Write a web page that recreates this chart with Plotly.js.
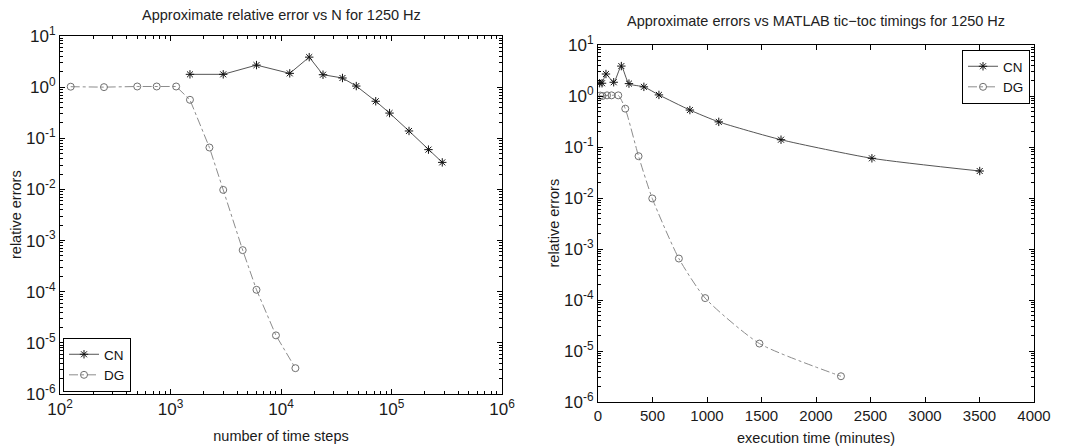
<!DOCTYPE html>
<html>
<head>
<meta charset="utf-8">
<script src="https://cdn.plot.ly/plotly-3.0.1.min.js"></script>
<style>html,body{margin:0;padding:0;background:#fff;}#chart{width:1072px;height:446px;}</style>
</head>
<body>
<div id="chart"></div>
<script>
// ---- data ----
const seriesNames = ["CN", "DG"];
// CN (Crank–Nicolson)
const stepsCN = [1500, 3000, 6000, 12000, 18000, 24000, 36000, 48000, 72000, 96000, 144000, 216000, 288000];
const errCN   = [1.78, 1.78, 2.7, 1.86, 3.86, 1.75, 1.51, 1.05, 0.53, 0.311, 0.139, 0.060, 0.0338];
const timeCN  = [15, 37, 73, 144, 214, 284, 421, 559, 843, 1108, 1679, 2513, 3502];
// DG
const stepsDG = [125, 250, 500, 750, 1125, 1500, 2250, 3000, 4500, 6000, 9000, 13500];
const errDG   = [1.02, 1.0, 1.03, 1.03, 1.03, 0.565, 0.066, 0.0098, 6.5e-4, 1.09e-4, 1.4e-5, 3.2e-6];
const timeDG  = [21, 41, 83, 124, 186, 250, 372, 498, 742, 983, 1481, 2229];

const titleLeft = "Approximate relative error vs N for 1250 Hz";
const titleRight = "Approximate errors vs MATLAB tic\u2212toc timings for 1250 Hz";
const xTitleLeft = "number of time steps";
const xTitleRight = "execution time (minutes)";
const yTitle = "relative errors";

const yExp = [1, 0, -1, -2, -3, -4, -5, -6];
const xExpLeft = [2, 3, 4, 5, 6];
const xTicksRight = [0, 500, 1000, 1500, 2000, 2500, 3000, 3500, 4000];

// ---- helpers ----
function powLabel(e){ return "10<sup>" + e + "</sup>"; }
function minorVals(lo, hi){ const v=[]; for(let e=lo;e<hi;e++){ for(let m=2;m<=9;m++) v.push(m*Math.pow(10,e)); } return v; }

const W = 1072, H = 446;
const L = {l:60, r:502, t:36, b:394};
const R = {l:598, r:1034, t:45, b:402};

const FAM = "Liberation Sans, Arial, Helvetica, sans-serif";
const TXT = "#1a1a1a";

const cnLine = {color:"#555555", width:1};
const cnMarker = {symbol:"asterisk-open", size:7, color:"#111", line:{color:"#111", width:1}};
const dgLine = {color:"#8c8c8c", width:1, dash:"dashdot"};
const dgMarker = {symbol:"circle-open", size:7, color:"#707070", line:{color:"#707070", width:1}};

const traces = [
  {x:stepsCN, y:errCN, name:seriesNames[0], mode:"lines+markers", line:cnLine, marker:cnMarker, xaxis:"x", yaxis:"y", legend:"legend"},
  {x:stepsDG, y:errDG, name:seriesNames[1], mode:"lines+markers", line:dgLine, marker:dgMarker, xaxis:"x", yaxis:"y", legend:"legend"},
  {x:timeCN, y:errCN, name:seriesNames[0], mode:"lines+markers", line:{...cnLine, shape:"spline", smoothing:0.6}, marker:cnMarker, xaxis:"x2", yaxis:"y2", legend:"legend2"},
  {x:timeDG, y:errDG, name:seriesNames[1], mode:"lines+markers", line:{...dgLine, shape:"spline", smoothing:0.6}, marker:dgMarker, xaxis:"x2", yaxis:"y2", legend:"legend2"}
];

const axCommon = {
  showline:true, linecolor:"#000", linewidth:1, mirror:"ticks",
  ticks:"inside", ticklen:5, tickcolor:"#000", tickwidth:1,
  showgrid:false, zeroline:false, fixedrange:true,
  tickfont:{family:FAM, size:15, color:TXT}
};
const powFont = {family:FAM, size:17, color:TXT};
const titleFont = {family:FAM, size:14.5, color:TXT};

function yAxis(box, anchor){
  return Object.assign({}, axCommon, {
    type:"log", range:[-6, 1], anchor:anchor,
    domain:[1 - box.b/H, 1 - box.t/H],
    tickfont:powFont,
    tickmode:"array", tickvals:yExp.map(e=>Math.pow(10,e)), ticktext:yExp.map(powLabel),
    minor:{ticks:"inside", ticklen:3, tickcolor:"#000", tickmode:"array", tickvals:minorVals(-6,1)}
  });
}

const layout = {
  width:W, height:H, margin:{l:0, r:0, t:0, b:0},
  paper_bgcolor:"#fff", plot_bgcolor:"#fff", font:{family:FAM, size:12, color:TXT},
  xaxis: Object.assign({}, axCommon, {
    type:"log", range:[2, 6], anchor:"y", domain:[L.l/W, L.r/W],
    tickfont:powFont,
    tickmode:"array", tickvals:xExpLeft.map(e=>Math.pow(10,e)), ticktext:xExpLeft.map(powLabel),
    minor:{ticks:"inside", ticklen:3, tickcolor:"#000", tickmode:"array", tickvals:minorVals(2,6)},
    title:{text:xTitleLeft, font:titleFont, standoff:12}
  }),
  yaxis: yAxis(L, "x"),
  xaxis2: Object.assign({}, axCommon, {
    type:"linear", range:[0, 4000], anchor:"y2", domain:[R.l/W, R.r/W],
    tickmode:"array", tickvals:xTicksRight, ticktext:xTicksRight.map(String),
    title:{text:xTitleRight, font:titleFont, standoff:10}
  }),
  yaxis2: yAxis(R, "x2"),
  legend:{x:63/W, y:1 - 392/H, xanchor:"left", yanchor:"bottom", bgcolor:"#fff", bordercolor:"#000", borderwidth:1,
          font:{family:FAM, size:13.5, color:"#111"}, itemwidth:30, tracegroupgap:0},
  legend2:{x:1030/W, y:1 - 50/H, xanchor:"right", yanchor:"top", bgcolor:"#fff", bordercolor:"#000", borderwidth:1,
          font:{family:FAM, size:13.5, color:"#111"}, itemwidth:30, tracegroupgap:0},
  annotations:[
    {text:titleLeft, xref:"paper", yref:"paper", x:(L.l+L.r)/2/W, y:1 - 15/H, xanchor:"center", yanchor:"middle", showarrow:false,
     font:{family:FAM, size:14.5, color:"#222"}},
    {text:titleRight, xref:"paper", yref:"paper", x:(R.l+R.r)/2/W, y:1 - 21/H, xanchor:"center", yanchor:"middle", showarrow:false,
     font:{family:FAM, size:14.5, color:"#222"}},
    {text:yTitle, xref:"paper", yref:"paper", x:16/W, y:1 - ((L.t+L.b)/2)/H, xanchor:"center", yanchor:"middle", textangle:-90, showarrow:false,
     font:titleFont},
    {text:yTitle, xref:"paper", yref:"paper", x:554/W, y:1 - ((R.t+R.b)/2)/H, xanchor:"center", yanchor:"middle", textangle:-90, showarrow:false,
     font:titleFont}
  ],
  showlegend:true
};

Plotly.newPlot("chart", traces, layout, {staticPlot:true, displayModeBar:false});
</script>
</body>
</html>
